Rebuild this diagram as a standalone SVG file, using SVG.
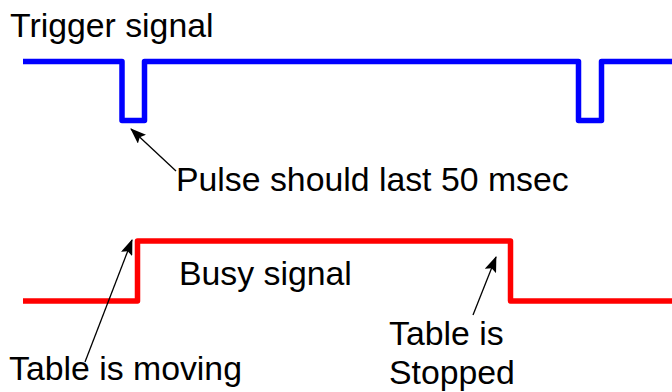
<svg xmlns="http://www.w3.org/2000/svg" width="672" height="392" viewBox="0 0 672 392">
<style>
.sig{fill:none;stroke-width:5.5;stroke-linejoin:round}
.lbl{font-family:"Liberation Sans",Arial,sans-serif;font-size:33.8px;fill:#000}
.ptr{stroke:#000;stroke-width:1.3;fill:none}
</style>
<defs>
<marker id="ah" viewBox="0 0 16 12" refX="15" refY="6" markerWidth="16" markerHeight="12" markerUnits="userSpaceOnUse" orient="auto">
<path d="M0,0 L16,6 L0,12 L3,6 Z" fill="#000"/>
</marker>
</defs>
<g id="trigger">
<path class="sig" stroke="#0000ff" d="M23,61.5 H122 V120.5 H144.5 V61.5 H578.5 V120.5 H601.5 V61.5 H672"/>
<text class="lbl" x="10" y="37">Trigger signal</text>
</g>
<g id="busy">
<path class="sig" stroke="#ff0000" d="M23,301 H137.5 V241 H510.5 V301 H672"/>
<text class="lbl" x="179" y="285">Busy signal</text>
</g>
<g id="pulse-note">
<text class="lbl" x="176" y="191">Pulse should last 50 msec</text>
</g>
<g id="moving-note">
<text class="lbl" x="9" y="380">Table is moving</text>
</g>
<g id="stopped-note">
<text class="lbl" x="389" y="345">Table is</text>
<text class="lbl" x="389" y="384">Stopped</text>
</g>
<g id="connectors">
<line class="ptr" x1="176" y1="171" x2="131" y2="129" marker-end="url(#ah)"/>
<line class="ptr" x1="85" y1="362" x2="132" y2="240" marker-end="url(#ah)"/>
<line class="ptr" x1="473" y1="315" x2="496" y2="257" marker-end="url(#ah)"/>
</g>
</svg>
